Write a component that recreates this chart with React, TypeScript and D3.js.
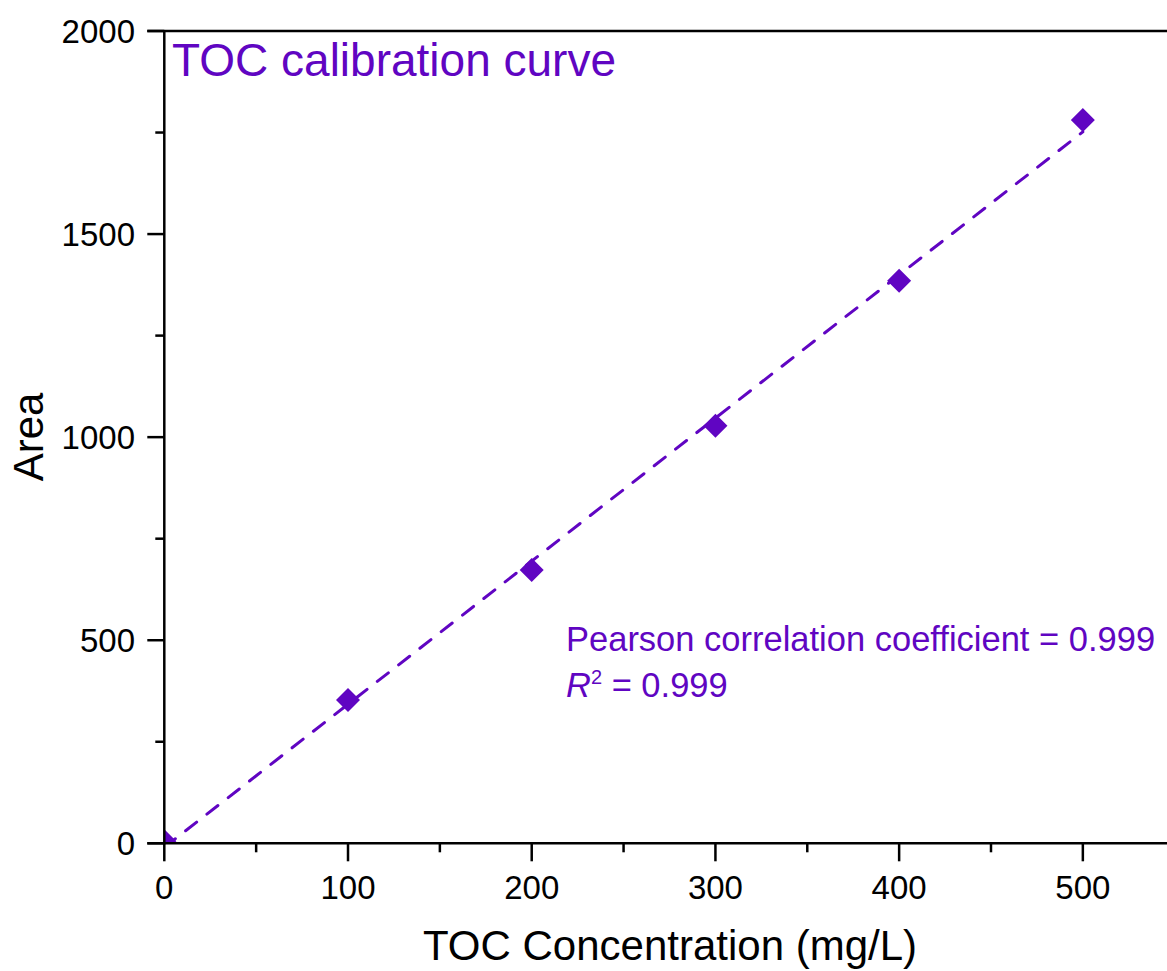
import React from "react";
import * as d3 from "d3";

const concentrations = [0, 100, 200, 300, 400, 500];
const areas = [5, 353, 673, 1028, 1385, 1781];
const xMajorTicks = [0, 100, 200, 300, 400, 500];
const xMinorTicks = [50, 150, 250, 350, 450, 550];
const yMajorTicks = [0, 500, 1000, 1500, 2000];
const yMinorTicks = [250, 750, 1250, 1750];
const titleText = "TOC calibration curve";
const xLabel = "TOC Concentration (mg/L)";
const yLabel = "Area";
const pearsonText = "Pearson correlation coefficient = 0.999";
const r2Value = " = 0.999";

const W = 1167;
const H = 971;
const PURPLE = "#6005c2";

export default function App() {
  const x = d3.scaleLinear().domain([0, 550]).range([164.3, 1174.7]);
  const y = d3.scaleLinear().domain([0, 2000]).range([843.3, 31]);

  // linear regression fit
  const mx = d3.mean(concentrations) as number;
  const my = d3.mean(areas) as number;
  let sxy = 0, sxx = 0;
  concentrations.forEach((c, i) => {
    sxy += (c - mx) * (areas[i] - my);
    sxx += (c - mx) * (c - mx);
  });
  const slope = sxy / sxx;
  const intercept = my - slope * mx;
  const fitPts: [number, number][] = [0, 500].map((c) => [c, intercept + slope * c]);
  const line = d3
    .line<[number, number]>()
    .x((d) => x(d[0]))
    .y((d) => y(d[1]));

  const left = x(0);
  const top = y(2000);
  const bottom = y(0);
  const font = "Arial, 'Liberation Sans', sans-serif";
  const ms = 12;

  return (
    <div style={{ position: "absolute", left: 0, top: 0 }}>
      <svg width={W} height={H} style={{ display: "block", background: "#fff" }} fontFamily={font}>
        <defs>
          <clipPath id="plotClip">
            <rect x={left} y={top} width={W - left} height={bottom - top} />
          </clipPath>
        </defs>
        <g clipPath="url(#plotClip)">
          <path
            d={line(fitPts) || ""}
            fill="none"
            stroke={PURPLE}
            strokeWidth={3}
            strokeDasharray="14 13"
            strokeLinecap="round"
          />
          {concentrations.map((c, i) => (
            <path
              key={c}
              d={`M${x(c)},${y(areas[i]) - ms}L${x(c) + ms},${y(areas[i])}L${x(c)},${y(areas[i]) + ms}L${x(c) - ms},${y(areas[i])}Z`}
              fill={PURPLE}
            />
          ))}
        </g>
        {/* axes */}
        <line x1={left} y1={top} x2={left} y2={bottom + 1} stroke="#000" strokeWidth={2.5} />
        <line x1={left - 17} y1={bottom} x2={W} y2={bottom} stroke="#000" strokeWidth={2.5} />
        <line x1={left - 17} y1={top} x2={W} y2={top} stroke="#000" strokeWidth={2.5} />
        {xMajorTicks.map((t) => (
          <g key={"xm" + t}>
            <line x1={x(t)} x2={x(t)} y1={bottom} y2={bottom + 18} stroke="#000" strokeWidth={2.5} />
            <text x={x(t)} y={898.5} textAnchor="middle" fontSize={33} fill="#000">
              {t}
            </text>
          </g>
        ))}
        {xMinorTicks.map((t) => (
          <line key={"xn" + t} x1={x(t)} x2={x(t)} y1={bottom} y2={bottom + 9} stroke="#000" strokeWidth={2.5} />
        ))}
        {yMajorTicks.map((t) => (
          <g key={"ym" + t}>
            <line x1={left - 17} x2={left} y1={y(t)} y2={y(t)} stroke="#000" strokeWidth={2.5} />
            <text x={135} y={y(t) + 11.5} textAnchor="end" fontSize={33} fill="#000">
              {t}
            </text>
          </g>
        ))}
        {yMinorTicks.map((t) => (
          <line key={"yn" + t} x1={left - 9} x2={left} y1={y(t)} y2={y(t)} stroke="#000" strokeWidth={2.5} />
        ))}
        {/* labels */}
        <text x={670} y={960} textAnchor="middle" fontSize={42} fill="#000">
          {xLabel}
        </text>
        <text transform={`translate(43,437) rotate(-90)`} textAnchor="middle" fontSize={42} fill="#000">
          {yLabel}
        </text>
        <text x={172} y={76} fontSize={46} fill={PURPLE}>
          {titleText}
        </text>
        <text x={566} y={651} fontSize={34.5} fill={PURPLE}>
          {pearsonText}
        </text>
        <text x={566} y={697} fontSize={34.5} fill={PURPLE}>
          <tspan fontStyle="italic">R</tspan>
          <tspan dy={-13} fontSize={20}>2</tspan>
          <tspan dy={13}>{r2Value}</tspan>
        </text>
      </svg>
    </div>
  );
}
